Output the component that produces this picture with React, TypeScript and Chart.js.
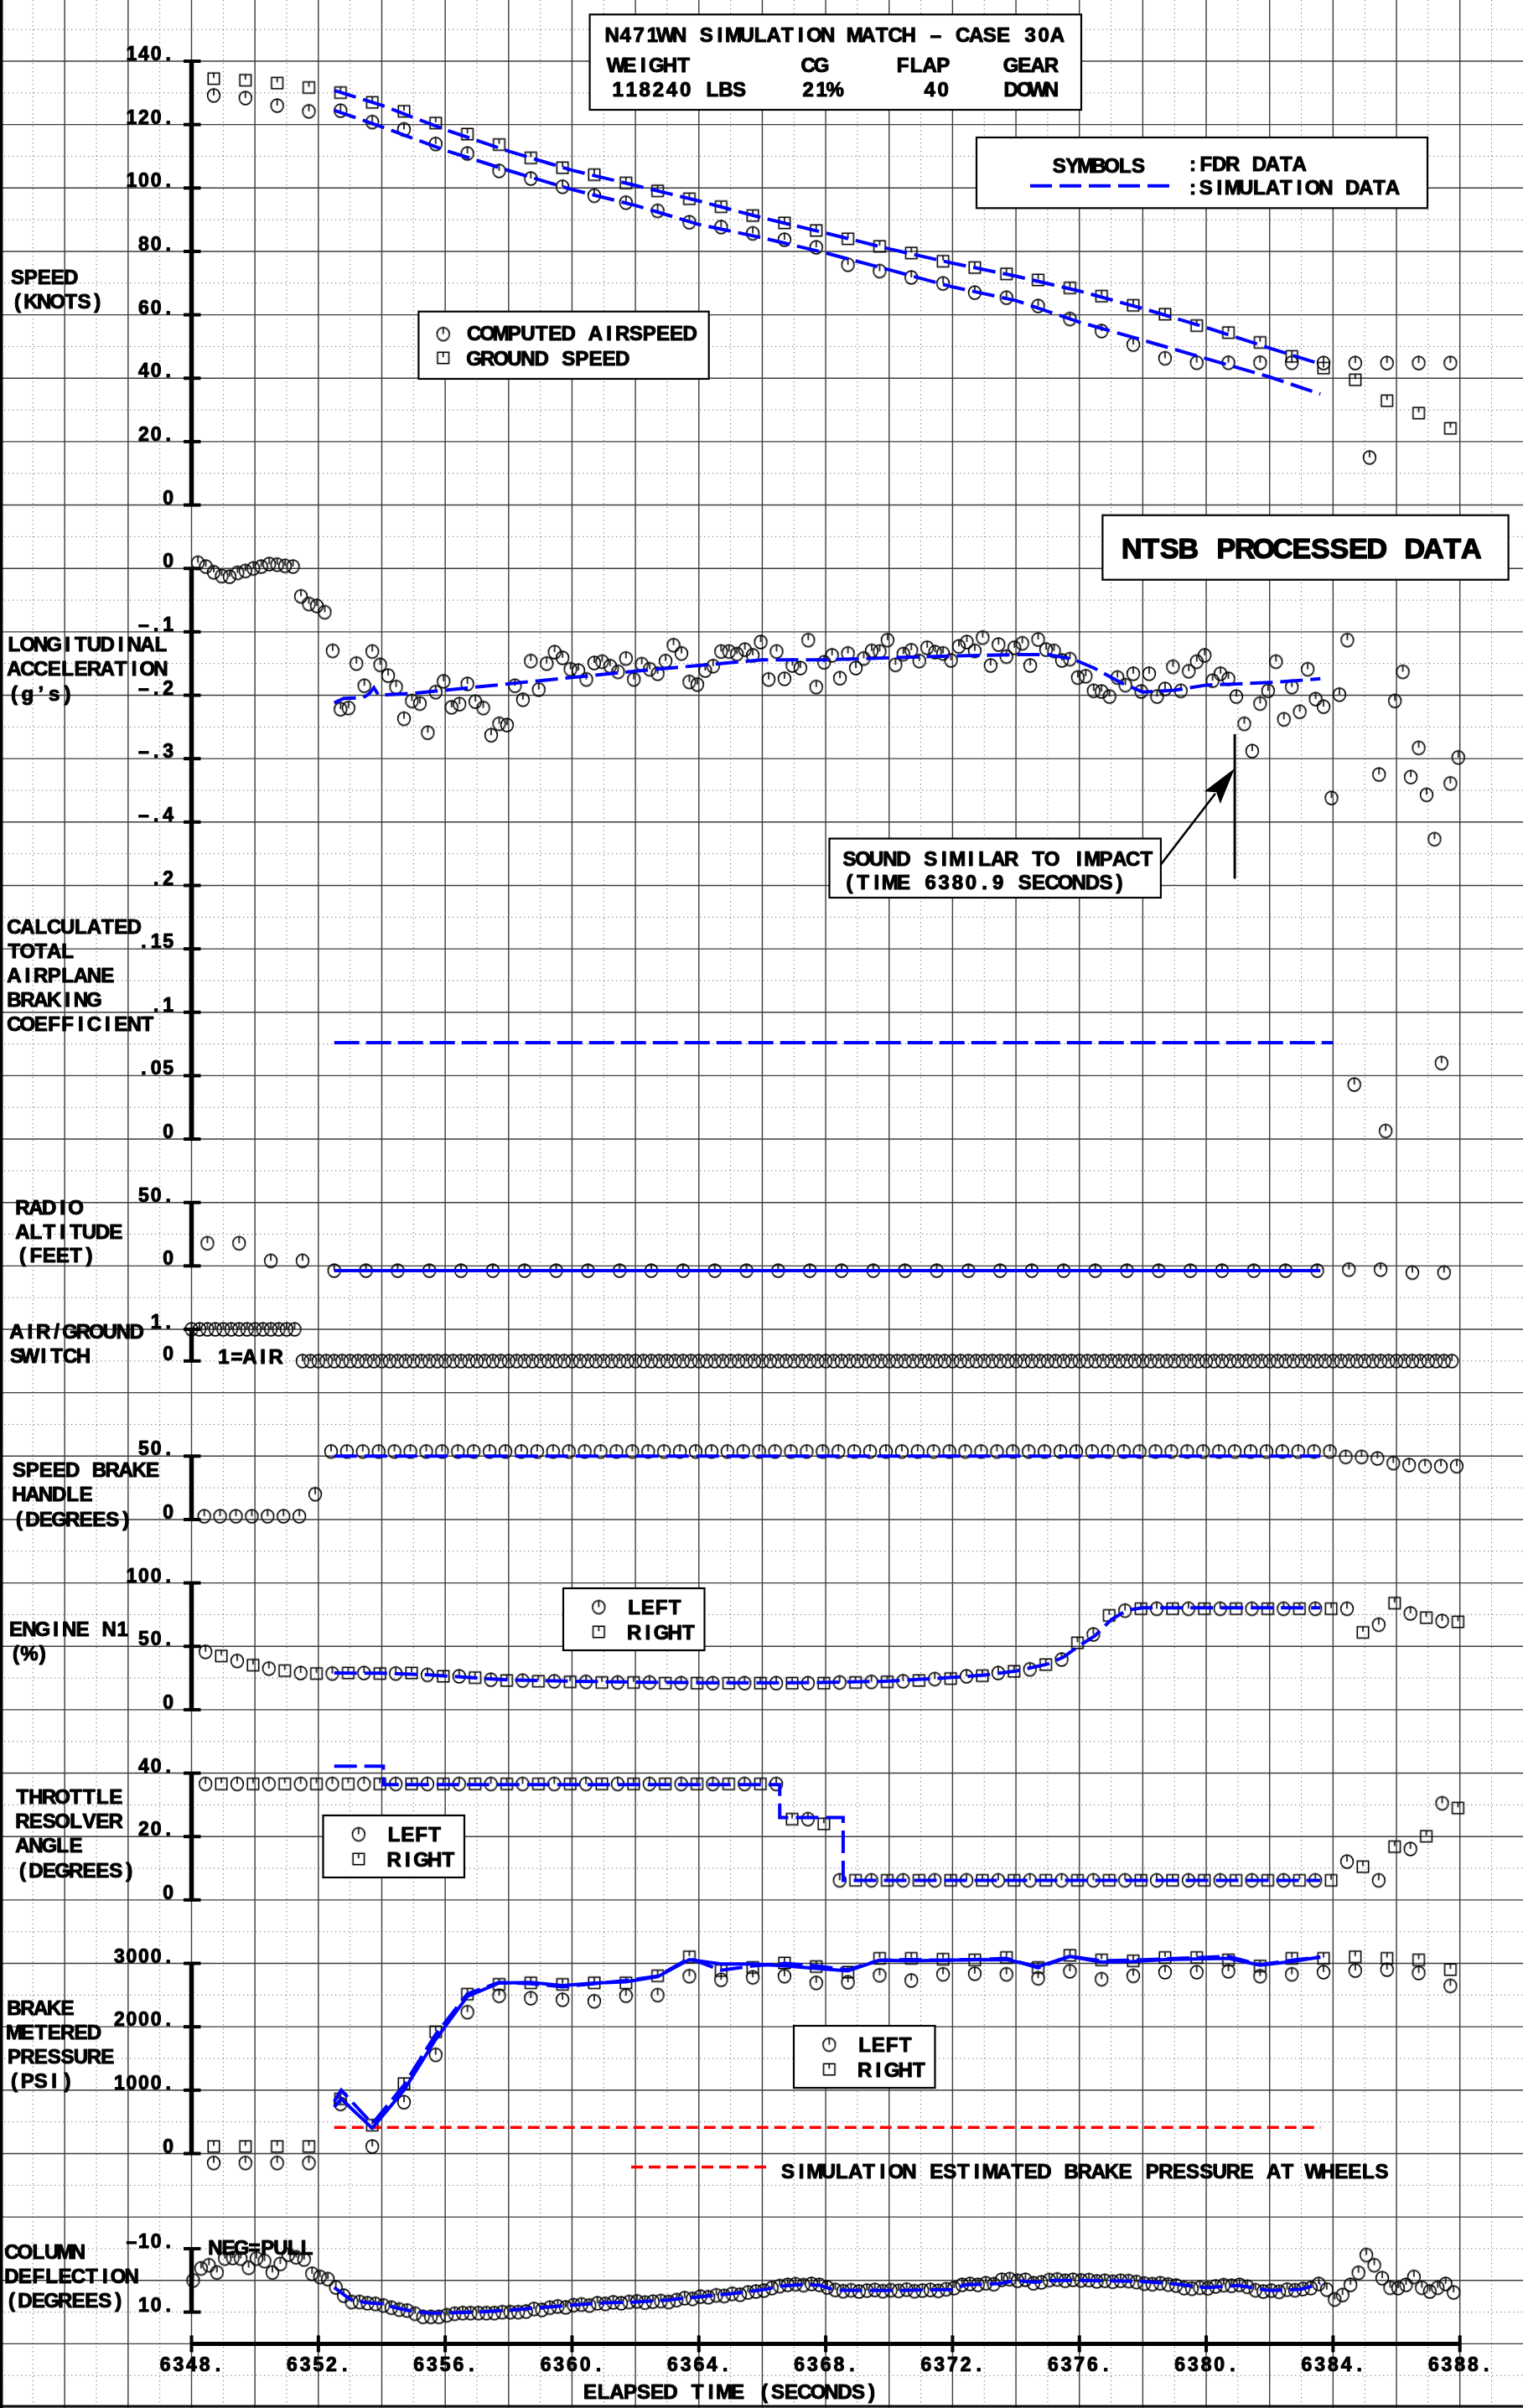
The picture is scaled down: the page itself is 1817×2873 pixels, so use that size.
import React, { useEffect, useRef } from "react";
import { Chart, registerables } from "chart.js";

Chart.register(...registerables);

// ---------------- page / plot frame ----------------
const CANVAS_W = 1817;
const CANVAS_H = 2873;
const PLOT_LEFT = 228.5;
const PLOT_RIGHT = 1741.7;
const PLOT_TOP = 73;
const PLOT_BOTTOM = 2796.4;
const ROWS = 36;
const BLUE = "#0000ff";
const RED = "#ff0000";
const FONT = "'Liberation Sans', Arial, Helvetica, sans-serif";

// ---------------- x axis ----------------
const X_MIN = 6348;
const X_MAX = 6388;
const X_TICKS = [6348, 6352, 6356, 6360, 6364, 6368, 6372, 6376, 6380, 6384, 6388];
const X_TICK_LABELS = ["6348.", "6352.", "6356.", "6360.", "6364.", "6368.", "6372.", "6376.", "6380.", "6384.", "6388."];
const X_TITLE = "ELAPSED TIME (SECONDS)";

// ---------------- tick labels per panel ----------------
const SPEED_TICKS = [140, 120, 100, 80, 60, 40, 20, 0];
const SPEED_TICK_LABELS = ["140.", "120.", "100.", "80.", "60.", "40.", "20.", "0"];
const ACC_TICKS = [0, -0.1, -0.2, -0.3, -0.4];
const ACC_TICK_LABELS = ["0", "–.1", "–.2", "–.3", "–.4"];
const COEF_TICKS = [0.2, 0.15, 0.1, 0.05, 0];
const COEF_TICK_LABELS = [".2", ".15", ".1", ".05", "0"];
const RAD_TICKS = [50, 0];
const RAD_TICK_LABELS = ["50.", "0"];
const AG_TICKS = [1, 0];
const AG_TICK_LABELS = ["1.", "0"];
const SB_TICKS = [50, 0];
const SB_TICK_LABELS = ["50.", "0"];
const N1_TICKS = [100, 50, 0];
const N1_TICK_LABELS = ["100.", "50.", "0"];
const TRA_TICKS = [40, 20, 0];
const TRA_TICK_LABELS = ["40.", "20.", "0"];
const BRK_TICKS = [3000, 2000, 1000, 0];
const BRK_TICK_LABELS = ["3000.", "2000.", "1000.", "0"];
const COL_TICKS = [-10, 10];
const COL_TICK_LABELS = ["–10.", "10."];

// ---------------- texts ----------------
const TITLE_LINE = "N471WN SIMULATION MATCH – CASE 30A";
const TITLE_HEADS = ["WEIGHT", "CG", "FLAP", "GEAR"];
const TITLE_VALUES = ["118240 LBS", "21%", "40", "DOWN"];
const SYMBOLS_TEXT = ["SYMBOLS", ":FDR DATA", ":SIMULATION DATA"];
const SPEED_LEGEND = ["COMPUTED AIRSPEED", "GROUND SPEED"];
const LR_LEGEND = ["LEFT", "RIGHT"];
const NTSB_TEXT = "NTSB PROCESSED DATA";
const SOUND_TEXT = ["SOUND SIMILAR TO IMPACT", "(TIME 6380.9 SECONDS)"];
const IMPACT_T = 6380.9;
const RED_LEGEND = "SIMULATION ESTIMATED BRAKE PRESSURE AT WHEELS";
const AIR_NOTE = "1=AIR";
const PULL_NOTE = "NEG=PULL";

// ---------------- SPEED (knots) ----------------
const SPD_T = [6348.7, 6349.7, 6350.7, 6351.7, 6352.7, 6353.7, 6354.7, 6355.7, 6356.7, 6357.7,
  6358.7, 6359.7, 6360.7, 6361.7, 6362.7, 6363.7, 6364.7, 6365.7, 6366.7, 6367.7,
  6368.7, 6369.7, 6370.7, 6371.7, 6372.7, 6373.7, 6374.7, 6375.7, 6376.7, 6377.7,
  6378.7, 6379.7, 6380.7, 6381.7, 6382.7, 6383.7, 6384.7, 6385.7, 6386.7, 6387.7];
const GS = [134.5, 134.0, 133.1, 131.7, 130.1, 127.0, 124.2, 120.5, 117.0, 113.7,
  109.5, 106.4, 104.2, 101.6, 99.1, 96.6, 94.1, 91.3, 89.0, 86.6,
  84.0, 81.6, 79.5, 76.9, 74.9, 72.9, 71.0, 68.5, 65.9, 63.0,
  60.2, 56.6, 54.4, 51.3, 46.9, 43.2, 39.5, 32.9, 29.0, 24.2];
const CAS_T = [6348.7, 6349.7, 6350.7, 6351.7, 6352.7, 6353.7, 6354.7, 6355.7, 6356.7, 6357.7,
  6358.7, 6359.7, 6360.7, 6361.7, 6362.7, 6363.7, 6364.7, 6365.7, 6366.7, 6367.7,
  6368.7, 6369.7, 6370.7, 6371.7, 6372.7, 6373.7, 6374.7, 6375.7, 6376.7, 6377.7,
  6378.7, 6379.7, 6380.7, 6381.7, 6382.7, 6383.7, 6384.7, 6385.15, 6385.7, 6386.7, 6387.7];
const CAS = [129.2, 128.4, 126.0, 124.2, 124.4, 120.8, 118.5, 113.9, 110.9, 105.4,
  103.0, 100.4, 97.6, 95.4, 92.8, 89.2, 87.7, 85.7, 83.7, 81.3,
  75.8, 73.8, 71.8, 69.9, 67.0, 65.4, 62.8, 58.7, 54.9, 50.6,
  46.3, 44.9, 44.9, 44.9, 44.9, 44.8, 44.8, 15.0, 44.8, 44.8, 44.8];
const SIM_SPD_T = [6352.5, 6354, 6356, 6358, 6360, 6362, 6364, 6366, 6368, 6370, 6372, 6374, 6376, 6378, 6380, 6382, 6383.6];
const SIM_GS = [130.8, 126.1, 118.4, 111.6, 105.6, 100.8, 95.9, 90.6, 85.8, 80.8, 76.3, 72.2, 67.5, 62.0, 56.0, 49.5, 44.5];
const SIM_CAS = [124.5, 119.3, 111.9, 105.5, 99.5, 94.5, 88.5, 84.3, 79.5, 74.2, 68.8, 64.5, 57.7, 52.0, 46.2, 40.4, 35.0];

// ---------------- LONGITUDINAL ACCELERATION (g) ----------------
const ACC_T = [6348.2, 6348.45, 6348.7, 6348.95, 6349.2, 6349.45, 6349.7, 6349.95,
  6350.2, 6350.45, 6350.7, 6350.95, 6351.2, 6351.45, 6351.7, 6351.95,
  6352.2, 6352.45, 6352.7, 6352.95, 6353.2, 6353.45, 6353.7, 6353.95,
  6354.2, 6354.45, 6354.7, 6354.95, 6355.2, 6355.45, 6355.7, 6355.95,
  6356.2, 6356.45, 6356.7, 6356.95, 6357.2, 6357.45, 6357.7, 6357.95,
  6358.2, 6358.45, 6358.7, 6358.95, 6359.2, 6359.45, 6359.7, 6359.95,
  6360.2, 6360.45, 6360.7, 6360.95, 6361.2, 6361.45, 6361.7, 6361.95,
  6362.2, 6362.45, 6362.7, 6362.95, 6363.2, 6363.45, 6363.7, 6363.95,
  6364.2, 6364.45, 6364.7, 6364.95, 6365.2, 6365.45, 6365.7, 6365.95,
  6366.2, 6366.45, 6366.7, 6366.95, 6367.2, 6367.45, 6367.7, 6367.95,
  6368.2, 6368.45, 6368.7, 6368.95, 6369.2, 6369.45, 6369.7, 6369.95,
  6370.2, 6370.45, 6370.7, 6370.95, 6371.2, 6371.45, 6371.7, 6371.95,
  6372.2, 6372.45, 6372.7, 6372.95, 6373.2, 6373.45, 6373.7, 6373.95,
  6374.2, 6374.45, 6374.7, 6374.95, 6375.2, 6375.45, 6375.7, 6375.95,
  6376.2, 6376.45, 6376.7, 6376.95, 6377.2, 6377.45, 6377.7, 6377.95,
  6378.2, 6378.45, 6378.7, 6378.95, 6379.2, 6379.45, 6379.7, 6379.95,
  6380.2, 6380.45, 6380.7, 6380.95, 6381.2, 6381.45, 6381.7, 6381.95,
  6382.2, 6382.45, 6382.7, 6382.95, 6383.2, 6383.45, 6383.7, 6383.95,
  6384.2, 6384.45];
const ACC = [0.009, 0.003, -0.006, -0.012, -0.013, -0.007, -0.004, 0.000, 0.003, 0.007,
  0.006, 0.004, 0.003, -0.044, -0.056, -0.059, -0.069, -0.130, -0.222, -0.220,
  -0.150, -0.185, -0.131, -0.152, -0.169, -0.187, -0.237, -0.209, -0.213, -0.259,
  -0.195, -0.178, -0.219, -0.214, -0.182, -0.210, -0.220, -0.263, -0.245, -0.247,
  -0.185, -0.207, -0.146, -0.191, -0.150, -0.132, -0.141, -0.159, -0.161, -0.175,
  -0.149, -0.147, -0.154, -0.163, -0.142, -0.175, -0.151, -0.159, -0.166, -0.146,
  -0.121, -0.134, -0.179, -0.183, -0.161, -0.154, -0.131, -0.131, -0.135, -0.128,
  -0.137, -0.116, -0.175, -0.131, -0.174, -0.153, -0.157, -0.113, -0.187, -0.148,
  -0.137, -0.173, -0.134, -0.157, -0.142, -0.130, -0.131, -0.113, -0.152, -0.135,
  -0.129, -0.146, -0.125, -0.132, -0.134, -0.145, -0.123, -0.116, -0.130, -0.109,
  -0.153, -0.120, -0.139, -0.125, -0.118, -0.153, -0.112, -0.128, -0.130, -0.145,
  -0.143, -0.172, -0.170, -0.193, -0.194, -0.202, -0.172, -0.184, -0.166, -0.194,
  -0.166, -0.202, -0.190, -0.155, -0.193, -0.162, -0.147, -0.137, -0.177, -0.166,
  -0.174, -0.202, -0.245, -0.288, -0.213, -0.193, -0.147, -0.238, -0.187, -0.226,
  -0.159, -0.206, -0.218, -0.362, -0.199, -0.113];
const ACC_LATE_T = [6385.45, 6385.95, 6386.2, 6386.45, 6386.7, 6386.95, 6387.2, 6387.7, 6387.95];
const ACC_LATE = [-0.325, -0.209, -0.163, -0.329, -0.283, -0.357, -0.427, -0.339, -0.298];
const SIM_ACC_T = [6352.5, 6352.8, 6353.4, 6353.6, 6353.75, 6353.9, 6355, 6356, 6358, 6360, 6362, 6364, 6366,
  6368, 6370, 6372, 6374, 6375, 6375.8, 6376.5, 6377.3, 6378, 6379, 6380, 6382, 6383.6];
const SIM_ACC = [-0.212, -0.205, -0.204, -0.198, -0.188, -0.200, -0.197, -0.192, -0.182, -0.172, -0.162, -0.153, -0.144,
  -0.144, -0.141, -0.138, -0.136, -0.136, -0.143, -0.158, -0.180, -0.195, -0.192, -0.184, -0.180, -0.174];

// ---------------- BRAKING COEFFICIENT ----------------
const COEF_T = [6384.67, 6385.66, 6387.42];
const COEF = [0.043, 0.0064, 0.060];
const SIM_COEF_T = [6352.5, 6384.0];
const SIM_COEF = [0.076, 0.076];

// ---------------- RADIO ALTITUDE (ft) ----------------
const RAD_T = [6348.5, 6349.5, 6350.5, 6351.5, 6352.5, 6353.5, 6354.5, 6355.5, 6356.5, 6357.5,
  6358.5, 6359.5, 6360.5, 6361.5, 6362.5, 6363.5, 6364.5, 6365.5, 6366.5, 6367.5,
  6368.5, 6369.5, 6370.5, 6371.5, 6372.5, 6373.5, 6374.5, 6375.5, 6376.5, 6377.5,
  6378.5, 6379.5, 6380.5, 6381.5, 6382.5, 6383.5, 6384.5, 6385.5, 6386.5, 6387.5];
const RAD = [17.9, 17.9, 4.0, 4.0, -3.7, -3.7, -3.7, -3.7, -3.7, -3.7,
  -3.7, -3.7, -3.7, -3.7, -3.7, -3.7, -3.7, -3.7, -3.7, -3.7,
  -3.7, -3.7, -3.7, -3.7, -3.7, -3.7, -3.7, -3.7, -3.7, -3.7,
  -3.7, -3.7, -3.7, -3.7, -3.7, -3.7, -2.9, -2.9, -5.3, -5.3];
const SIM_RAD_T = [6352.5, 6383.6];
const SIM_RAD = [-3.7, -3.7];

// ---------------- AIR/GROUND SWITCH ----------------
const AG_T = [6348, 6348.25, 6348.5, 6348.75, 6349, 6349.25, 6349.5, 6349.75,
  6350, 6350.25, 6350.5, 6350.75, 6351, 6351.25, 6351.5, 6351.75,
  6352, 6352.25, 6352.5, 6352.75, 6353, 6353.25, 6353.5, 6353.75,
  6354, 6354.25, 6354.5, 6354.75, 6355, 6355.25, 6355.5, 6355.75,
  6356, 6356.25, 6356.5, 6356.75, 6357, 6357.25, 6357.5, 6357.75,
  6358, 6358.25, 6358.5, 6358.75, 6359, 6359.25, 6359.5, 6359.75,
  6360, 6360.25, 6360.5, 6360.75, 6361, 6361.25, 6361.5, 6361.75,
  6362, 6362.25, 6362.5, 6362.75, 6363, 6363.25, 6363.5, 6363.75,
  6364, 6364.25, 6364.5, 6364.75, 6365, 6365.25, 6365.5, 6365.75,
  6366, 6366.25, 6366.5, 6366.75, 6367, 6367.25, 6367.5, 6367.75,
  6368, 6368.25, 6368.5, 6368.75, 6369, 6369.25, 6369.5, 6369.75,
  6370, 6370.25, 6370.5, 6370.75, 6371, 6371.25, 6371.5, 6371.75,
  6372, 6372.25, 6372.5, 6372.75, 6373, 6373.25, 6373.5, 6373.75,
  6374, 6374.25, 6374.5, 6374.75, 6375, 6375.25, 6375.5, 6375.75,
  6376, 6376.25, 6376.5, 6376.75, 6377, 6377.25, 6377.5, 6377.75,
  6378, 6378.25, 6378.5, 6378.75, 6379, 6379.25, 6379.5, 6379.75,
  6380, 6380.25, 6380.5, 6380.75, 6381, 6381.25, 6381.5, 6381.75,
  6382, 6382.25, 6382.5, 6382.75, 6383, 6383.25, 6383.5, 6383.75,
  6384, 6384.25, 6384.5, 6384.75, 6385, 6385.25, 6385.5, 6385.75,
  6386, 6386.25, 6386.5, 6386.75, 6387, 6387.25, 6387.5, 6387.75];
const AG = [1, 1, 1, 1, 1, 1, 1, 1,
  1, 1, 1, 1, 1, 1, 0, 0,
  0, 0, 0, 0, 0, 0, 0, 0,
  0, 0, 0, 0, 0, 0, 0, 0,
  0, 0, 0, 0, 0, 0, 0, 0,
  0, 0, 0, 0, 0, 0, 0, 0,
  0, 0, 0, 0, 0, 0, 0, 0,
  0, 0, 0, 0, 0, 0, 0, 0,
  0, 0, 0, 0, 0, 0, 0, 0,
  0, 0, 0, 0, 0, 0, 0, 0,
  0, 0, 0, 0, 0, 0, 0, 0,
  0, 0, 0, 0, 0, 0, 0, 0,
  0, 0, 0, 0, 0, 0, 0, 0,
  0, 0, 0, 0, 0, 0, 0, 0,
  0, 0, 0, 0, 0, 0, 0, 0,
  0, 0, 0, 0, 0, 0, 0, 0,
  0, 0, 0, 0, 0, 0, 0, 0,
  0, 0, 0, 0, 0, 0, 0, 0,
  0, 0, 0, 0, 0, 0, 0, 0,
  0, 0, 0, 0, 0, 0, 0, 0];

// ---------------- SPEED BRAKE HANDLE (deg) ----------------
const SB_T = [6348.4, 6348.9, 6349.4, 6349.9, 6350.4, 6350.9, 6351.4, 6351.9,
  6352.4, 6352.9, 6353.4, 6353.9, 6354.4, 6354.9, 6355.4, 6355.9,
  6356.4, 6356.9, 6357.4, 6357.9, 6358.4, 6358.9, 6359.4, 6359.9,
  6360.4, 6360.9, 6361.4, 6361.9, 6362.4, 6362.9, 6363.4, 6363.9,
  6364.4, 6364.9, 6365.4, 6365.9, 6366.4, 6366.9, 6367.4, 6367.9,
  6368.4, 6368.9, 6369.4, 6369.9, 6370.4, 6370.9, 6371.4, 6371.9,
  6372.4, 6372.9, 6373.4, 6373.9, 6374.4, 6374.9, 6375.4, 6375.9,
  6376.4, 6376.9, 6377.4, 6377.9, 6378.4, 6378.9, 6379.4, 6379.9,
  6380.4, 6380.9, 6381.4, 6381.9, 6382.4, 6382.9, 6383.4, 6383.9,
  6384.4, 6384.9, 6385.4, 6385.9, 6386.4, 6386.9, 6387.4, 6387.9];
const SB = [2.6, 2.6, 2.6, 2.6, 2.6, 2.6, 2.6, 20.0,
  53.7, 53.7, 53.7, 53.7, 53.7, 53.7, 53.7, 53.7,
  53.7, 53.7, 53.7, 53.7, 53.7, 53.7, 53.7, 53.7,
  53.7, 53.7, 53.7, 53.7, 53.7, 53.7, 53.7, 53.7,
  53.7, 53.7, 53.7, 53.7, 53.7, 53.7, 53.7, 53.7,
  53.7, 53.7, 53.7, 53.7, 53.7, 53.7, 53.7, 53.7,
  53.7, 53.7, 53.7, 53.7, 53.7, 53.7, 53.7, 53.7,
  53.7, 53.7, 53.7, 53.7, 53.7, 53.7, 53.7, 53.7,
  53.7, 53.7, 53.7, 53.7, 53.7, 53.7, 53.7, 53.7,
  49.4, 49.4, 48.2, 44.5, 43.0, 42.1, 42.1, 42.1];
const SIM_SB_T = [6352.5, 6383.6];
const SIM_SB = [50, 50];

// ---------------- ENGINE N1 (%) & THROTTLE (deg) — left/right sample times ----------------
const LEFT_T = [6348.44, 6349.44, 6350.44, 6351.44, 6352.44, 6353.44, 6354.44, 6355.44, 6356.44, 6357.44,
  6358.44, 6359.44, 6360.44, 6361.44, 6362.44, 6363.44, 6364.44, 6365.44, 6366.44, 6367.44,
  6368.44, 6369.44, 6370.44, 6371.44, 6372.44, 6373.44, 6374.44, 6375.44, 6376.44, 6377.44,
  6378.44, 6379.44, 6380.44, 6381.44, 6382.44, 6383.44, 6384.44, 6385.44, 6386.44, 6387.44];
const RIGHT_T = [6348.94, 6349.94, 6350.94, 6351.94, 6352.94, 6353.94, 6354.94, 6355.94, 6356.94, 6357.94,
  6358.94, 6359.94, 6360.94, 6361.94, 6362.94, 6363.94, 6364.94, 6365.94, 6366.94, 6367.94,
  6368.94, 6369.94, 6370.94, 6371.94, 6372.94, 6373.94, 6374.94, 6375.94, 6376.94, 6377.94,
  6378.94, 6379.94, 6380.94, 6381.94, 6382.94, 6383.94, 6384.94, 6385.94, 6386.94, 6387.94];
const N1_L = [45.7, 38.5, 32.5, 29.0, 28.6, 29.0, 28.6, 27.5, 26.4, 23.7,
  23.0, 22.5, 22.0, 21.5, 21.5, 21.0, 21.0, 21.0, 21.0, 21.0,
  21.5, 22.0, 22.5, 24.2, 26.4, 29.0, 31.9, 39.6, 59.4, 78.2,
  79.7, 79.7, 79.7, 79.7, 79.7, 79.7, 79.7, 67.1, 76.0, 70.0];
const N1_R = [42.4, 35.2, 30.8, 28.6, 29.0, 28.6, 29.0, 26.4, 25.3, 23.1,
  22.5, 22.0, 21.5, 21.5, 21.0, 21.0, 21.0, 21.0, 21.0, 21.0,
  21.5, 22.0, 23.1, 24.6, 26.8, 30.3, 35.6, 52.8, 74.4, 79.7,
  79.7, 79.7, 79.7, 79.7, 79.7, 79.7, 61.0, 84.1, 72.6, 69.3];
const SIM_N1_T = [6352.5, 6354, 6355.5, 6357, 6358, 6360, 6362, 6364, 6366, 6368, 6370, 6371,
  6372, 6373, 6374, 6375, 6375.5, 6376, 6376.5, 6377, 6377.5, 6378, 6383.6];
const SIM_N1 = [29.0, 28.8, 27.5, 25.0, 23.5, 22.5, 21.8, 21.3, 21.2, 21.5, 22.5, 24.0,
  25.5, 27.3, 30.5, 36.0, 41.5, 50.5, 58.5, 71.0, 78.5, 80.4, 80.4];
const TRA_L = [36.6, 36.6, 36.6, 36.6, 36.6, 36.6, 36.6, 36.6, 36.6, 36.6,
  36.6, 36.6, 36.6, 36.6, 36.6, 36.6, 36.6, 36.6, 36.6, 25.5,
  6.2, 6.2, 6.2, 6.2, 6.2, 6.2, 6.2, 6.2, 6.2, 6.2,
  6.2, 6.2, 6.2, 6.2, 6.2, 6.2, 12.1, 6.2, 16.1, 30.5];
const TRA_R = [36.6, 36.6, 36.6, 36.6, 36.6, 36.6, 36.6, 36.6, 36.6, 36.6,
  36.6, 36.6, 36.6, 36.6, 36.6, 36.6, 36.6, 36.6, 25.5, 24.0,
  6.2, 6.2, 6.2, 6.2, 6.2, 6.2, 6.2, 6.2, 6.2, 6.2,
  6.2, 6.2, 6.2, 6.2, 6.2, 6.2, 10.5, 16.8, 20.1, 29.0];
const SIM_TRA_T = [6352.5, 6354.05, 6354.05, 6366.55, 6366.55, 6368.55, 6368.55, 6383.6];
const SIM_TRA = [42.2, 42.2, 36.4, 36.4, 26.0, 26.0, 6.2, 6.2];

// ---------------- BRAKE METERED PRESSURE (psi) ----------------
const BRK_T = [6348.7, 6349.7, 6350.7, 6351.7, 6352.7, 6353.7, 6354.7, 6355.7, 6356.7, 6357.7,
  6358.7, 6359.7, 6360.7, 6361.7, 6362.7, 6363.7, 6364.7, 6365.7, 6366.7, 6367.7,
  6368.7, 6369.7, 6370.7, 6371.7, 6372.7, 6373.7, 6374.7, 6375.7, 6376.7, 6377.7,
  6378.7, 6379.7, 6380.7, 6381.7, 6382.7, 6383.7, 6384.7, 6385.7, 6386.7, 6387.7];
const BRK_L = [-147, -147, -147, -147, 784, 112, 810, 1558, 2231, 2489,
  2451, 2427, 2403, 2490, 2500, 2799, 2741, 2780, 2799, 2693,
  2702, 2813, 2731, 2828, 2838, 2828, 2765, 2876, 2751, 2804,
  2862, 2862, 2876, 2799, 2828, 2862, 2886, 2901, 2848, 2645];
const BRK_R = [112, 112, 112, 112, 862, 448, 1104, 1921, 2515, 2670,
  2693, 2669, 2693, 2693, 2804, 3104, 2886, 2935, 3007, 2949,
  2862, 3080, 3080, 3066, 3055, 3093, 2935, 3128, 3055, 3040,
  3093, 3093, 3055, 2958, 3080, 3080, 3104, 3080, 3055, 2901];
const SIM_BRK_T = [6352.5, 6352.72, 6353.7, 6354.7, 6355.7, 6356.7, 6357.7, 6358.7, 6359.7, 6360.7, 6361.7,
  6362.7, 6363.7, 6364.7, 6365.7, 6366.7, 6367.7, 6368.7, 6369.7, 6370.7, 6371.7, 6372.7,
  6373.7, 6374.7, 6375.7, 6376.7, 6377.7, 6378.7, 6379.7, 6380.7, 6381.7, 6382.7, 6383.6];
const SIM_BRK_A = [732, 862, 400, 1000, 1800, 2480, 2690, 2700, 2650, 2690, 2710,
  2790, 3060, 2990, 2990, 2960, 2920, 2880, 3050, 3040, 3050, 3055,
  3060, 2950, 3110, 3020, 3030, 3060, 3070, 3080, 2970, 3030, 3100];
const SIM_BRK_B = [820, 1000, 470, 1080, 1880, 2520, 2700, 2680, 2630, 2680, 2730,
  2800, 3080, 2890, 2960, 3000, 2960, 2900, 3050, 3060, 3050, 3060,
  3080, 2930, 3110, 3040, 3050, 3070, 3090, 3110, 2980, 3050, 3100];
const SIM_WHEEL_T = [6352.5, 6383.6];
const SIM_WHEEL = [412, 412];

// ---------------- COLUMN DEFLECTION (deg, neg = pull) ----------------
const COL_T = [6348.05, 6348.3, 6348.55, 6348.8, 6349.05, 6349.3, 6349.55, 6349.8,
  6350.05, 6350.3, 6350.55, 6350.8, 6351.05, 6351.3, 6351.55, 6351.8,
  6352.05, 6352.3, 6352.55, 6352.8, 6353.05, 6353.3, 6353.55, 6353.8,
  6354.05, 6354.3, 6354.55, 6354.8, 6355.05, 6355.3, 6355.55, 6355.8,
  6356.05, 6356.3, 6356.55, 6356.8, 6357.05, 6357.3, 6357.55, 6357.8,
  6358.05, 6358.3, 6358.55, 6358.8, 6359.05, 6359.3, 6359.55, 6359.8,
  6360.05, 6360.3, 6360.55, 6360.8, 6361.05, 6361.3, 6361.55, 6361.8,
  6362.05, 6362.3, 6362.55, 6362.8, 6363.05, 6363.3, 6363.55, 6363.8,
  6364.05, 6364.3, 6364.55, 6364.8, 6365.05, 6365.3, 6365.55, 6365.8,
  6366.05, 6366.3, 6366.55, 6366.8, 6367.05, 6367.3, 6367.55, 6367.8,
  6368.05, 6368.3, 6368.55, 6368.8, 6369.05, 6369.3, 6369.55, 6369.8,
  6370.05, 6370.3, 6370.55, 6370.8, 6371.05, 6371.3, 6371.55, 6371.8,
  6372.05, 6372.3, 6372.55, 6372.8, 6373.05, 6373.3, 6373.55, 6373.8,
  6374.05, 6374.3, 6374.55, 6374.8, 6375.05, 6375.3, 6375.55, 6375.8,
  6376.05, 6376.3, 6376.55, 6376.8, 6377.05, 6377.3, 6377.55, 6377.8,
  6378.05, 6378.3, 6378.55, 6378.8, 6379.05, 6379.3, 6379.55, 6379.8,
  6380.05, 6380.3, 6380.55, 6380.8, 6381.05, 6381.3, 6381.55, 6381.8,
  6382.05, 6382.3, 6382.55, 6382.8, 6383.05, 6383.3, 6383.55, 6383.8,
  6384.05, 6384.3, 6384.55, 6384.8, 6385.05, 6385.3, 6385.55, 6385.8,
  6386.05, 6386.3, 6386.55, 6386.8, 6387.05, 6387.3, 6387.55, 6387.8];
const COL = [0.0, -3.8, -4.8, -2.5, -6.9, -7.1, -6.9, -4.0, -6.9, -6.1,
  -2.5, -5.2, -8.1, -7.3, -6.6, -2.1, -1.1, -0.4, 2.2, 4.8,
  6.8, 6.8, 7.2, 7.4, 7.9, 8.6, 9.2, 9.5, 10.5, 11.5,
  11.5, 11.5, 11.0, 10.5, 10.3, 10.3, 10.3, 10.3, 10.3, 10.0,
  10.0, 10.0, 9.8, 9.0, 9.3, 8.6, 8.2, 8.5, 7.8, 7.6,
  7.9, 7.2, 7.4, 6.9, 7.2, 6.8, 6.6, 7.0, 6.7, 6.5,
  6.8, 6.2, 5.6, 5.8, 5.1, 5.3, 4.7, 4.9, 4.2, 4.5,
  3.8, 3.5, 3.2, 2.4, 1.8, 1.4, 1.2, 1.5, 1.1, 1.4,
  2.2, 3.0, 3.4, 3.1, 3.5, 3.2, 3.0, 3.4, 3.1, 3.3,
  2.9, 3.4, 3.2, 3.0, 3.3, 2.8, 2.4, 1.4, 1.1, 1.4,
  0.9, 1.2, -0.2, -0.4, 0.1, -0.2, 0.9, 0.6, -0.1, -0.3,
  0.1, -0.2, 0.0, -0.1, 0.3, 0.1, 0.4, 0.1, 0.2, 0.5,
  1.0, 1.2, 0.9, 1.3, 1.6, 2.4, 2.6, 2.3, 2.5, 1.9,
  1.5, 1.7, 1.4, 2.0, 3.1, 3.5, 3.2, 3.6, 2.9, 3.1,
  2.7, 2.4, 1.1, 2.9, 6.0, 4.6, 1.4, -2.4, -8.0, -4.8,
  -0.7, 2.3, 2.4, 1.4, -1.1, 2.3, 3.5, 2.3, 1.1, 3.8];
const SIM_COL_T = [6352.5, 6353, 6353.5, 6354, 6354.5, 6355, 6355.5, 6356, 6356.5, 6357, 6358, 6359, 6360,
  6361, 6362, 6363, 6364, 6365, 6366, 6366.6, 6367.3, 6367.8, 6368.3, 6370, 6372, 6372.4, 6373.5,
  6374, 6374.6, 6375, 6376, 6378, 6379, 6380, 6381, 6382, 6383, 6383.6];
const SIM_COL = [2.2, 6.0, 7.0, 7.4, 8.8, 9.8, 10.3, 10.3, 10.1, 10.0, 9.4, 8.6, 7.8,
  7.1, 6.8, 6.2, 5.2, 4.2, 3.0, 1.8, 1.3, 1.5, 3.1, 3.2, 2.9, 1.4, 1.0,
  0.0, 0.6, 0.1, 0.0, 0.3, 1.1, 2.3, 1.6, 3.2, 2.8, 1.0];

// ---------------- panel layout (value at top tick row, value per grid row) ----------------
type Panel = {
  id: string; top: number; row: number; per: number; reverse?: boolean; joinNext?: boolean;
  ticks: number[]; labels: string[]; title: string[]; tx: number; ty: number[];
};
const PANELS: Panel[] = [
  { id: "ySpeed", top: 140, row: 0, per: 20, ticks: SPEED_TICKS, labels: SPEED_TICK_LABELS, title: ["SPEED", "(KNOTS)"], tx: 13, ty: [330.6, 359.8] },
  { id: "yAccel", top: 0, row: 8, per: 0.1, joinNext: true, ticks: ACC_TICKS, labels: ACC_TICK_LABELS, title: ["LONGITUDINAL", "ACCELERATION", "(g’s)"], tx: 9, ty: [768.7, 797.7, 827.5] },
  { id: "yCoef", top: 0.2, row: 13, per: 0.05, ticks: COEF_TICKS, labels: COEF_TICK_LABELS, title: ["CALCULATED", "TOTAL", "AIRPLANE", "BRAKING", "COEFFICIENT"], tx: 9, ty: [1105.3, 1134.7, 1163.8, 1192.8, 1221.3] },
  { id: "yRadio", top: 50, row: 18, per: 50, ticks: RAD_TICKS, labels: RAD_TICK_LABELS, title: ["RADIO", "ALTITUDE", "(FEET)"], tx: 19, ty: [1440, 1469.3, 1497.3] },
  { id: "yAG", top: 1, row: 20, per: 2, ticks: AG_TICKS, labels: AG_TICK_LABELS, title: ["AIR/GROUND", "SWITCH"], tx: 12, ty: [1588.3, 1617.3] },
  { id: "ySB", top: 50, row: 22, per: 50, ticks: SB_TICKS, labels: SB_TICK_LABELS, title: ["SPEED BRAKE", "HANDLE", "(DEGREES)"], tx: 15, ty: [1753.3, 1782.5, 1812] },
  { id: "yN1", top: 100, row: 24, per: 50, ticks: N1_TICKS, labels: N1_TICK_LABELS, title: ["ENGINE N1", "(%)"], tx: 11, ty: [1943.3, 1972.7] },
  { id: "yTRA", top: 40, row: 27, per: 20, ticks: TRA_TICKS, labels: TRA_TICK_LABELS, title: ["THROTTLE", "RESOLVER", "ANGLE", "(DEGREES)"], tx: 19, ty: [2143.3, 2172.7, 2201.7, 2231.7] },
  { id: "yBrake", top: 3000, row: 30, per: 1000, ticks: BRK_TICKS, labels: BRK_TICK_LABELS, title: ["BRAKE", "METERED", "PRESSURE", "(PSI)"], tx: 9, ty: [2395.7, 2424.2, 2453.5, 2482.8] },
  { id: "yCol", top: -10, row: 34.5, per: 20, reverse: true, ticks: COL_TICKS, labels: COL_TICK_LABELS, title: ["COLUMN", "DEFLECTION", "(DEGREES)"], tx: 6, ty: [2686.1, 2715.4, 2744.8] },
];

function panelRange(p: Panel) {
  if (p.reverse) {
    const min = p.top - p.row * p.per;
    return { min, max: min + ROWS * p.per };
  }
  const max = p.top + p.row * p.per;
  return { min: max - ROWS * p.per, max };
}

// ---------------- drawing helpers ----------------
function cellText(ctx: any, text: string, x: number, yc: number, cell: number, size: number, align = "left") {
  const chars = Array.from(text);
  const n = chars.length;
  const x0 = align === "left" ? x : align === "right" ? x - n * cell : x - (n * cell) / 2;
  ctx.save();
  ctx.setLineDash([]);
  ctx.font = `bold ${size}px ${FONT}`;
  ctx.textAlign = "center";
  ctx.textBaseline = "alphabetic";
  ctx.fillStyle = "#000";
  ctx.strokeStyle = "#000";
  ctx.lineWidth = size * 0.045;
  ctx.lineJoin = "round";
  const base = yc + size * 0.36;
  chars.forEach((ch, i) => {
    if (ch === " ") return;
    const cx = x0 + (i + 0.5) * cell;
    ctx.fillText(ch, cx, base);
    ctx.strokeText(ch, cx, base);
  });
  ctx.restore();
}

function box(ctx: any, x0: number, y0: number, x1: number, y1: number) {
  ctx.setLineDash([]);
  ctx.fillStyle = "#fff";
  ctx.fillRect(x0, y0, x1 - x0, y1 - y0);
  ctx.strokeStyle = "#000";
  ctx.lineWidth = 2.2;
  ctx.strokeRect(x0, y0, x1 - x0, y1 - y0);
}

function seg(ctx: any, x0: number, y0: number, x1: number, y1: number) {
  ctx.beginPath();
  ctx.moveTo(x0, y0);
  ctx.lineTo(x1, y1);
  ctx.stroke();
}

function makeCircle() {
  const c = document.createElement("canvas");
  c.width = 20; c.height = 20;
  const g = c.getContext("2d")!;
  g.strokeStyle = "#000"; g.lineWidth = 1.6;
  g.beginPath(); g.ellipse(10, 10, 7.4, 7.9, 0, 0, Math.PI * 2); g.stroke();
  g.beginPath(); g.moveTo(10, 2.2); g.lineTo(10, 10); g.stroke();
  return c;
}
function makeSquare() {
  const c = document.createElement("canvas");
  c.width = 18; c.height = 18;
  const g = c.getContext("2d")!;
  g.strokeStyle = "#000"; g.lineWidth = 1.6;
  g.strokeRect(2.3, 2.3, 13.4, 13.4);
  g.beginPath(); g.moveTo(9, 2.3); g.lineTo(9, 8.2); g.stroke();
  return c;
}

const pts = (xs: number[], ys: number[]) => xs.map((x, i) => ({ x, y: ys[i] }));

export default function App() {
  const ref = useRef<HTMLCanvasElement | null>(null);

  useEffect(() => {
    document.body.style.margin = "0";
    const canvas = ref.current!;
    const circle = makeCircle();
    const square = makeSquare();

    const fdr = (label: string, xs: number[], ys: number[], yAxisID: string, style: any) => ({
      label, data: pts(xs, ys), yAxisID, showLine: false, pointStyle: style,
      pointRadius: 8, pointHoverRadius: 8, order: 2, clip: false,
    });
    const sim = (label: string, xs: number[], ys: number[], yAxisID: string, color = BLUE, dash: number[] = [27, 9], width = 4) => ({
      label, data: pts(xs, ys), yAxisID, showLine: true, borderColor: color, borderWidth: width,
      borderDash: dash, pointRadius: 0, fill: false, tension: 0, order: 1, clip: false,
    });

    const datasets: any[] = [
      sim("GS sim", SIM_SPD_T, SIM_GS, "ySpeed"),
      sim("CAS sim", SIM_SPD_T, SIM_CAS, "ySpeed"),
      sim("Accel sim", SIM_ACC_T, SIM_ACC, "yAccel"),
      sim("Coef sim", SIM_COEF_T, SIM_COEF, "yCoef", BLUE, [30, 8]),
      sim("Radio sim", SIM_RAD_T, SIM_RAD, "yRadio", BLUE, []),
      sim("SB sim", SIM_SB_T, SIM_SB, "ySB"),
      sim("N1 sim", SIM_N1_T, SIM_N1, "yN1"),
      sim("TRA sim", SIM_TRA_T, SIM_TRA, "yTRA"),
      sim("Brake sim A", SIM_BRK_T, SIM_BRK_A, "yBrake", BLUE, []),
      sim("Brake sim B", SIM_BRK_T, SIM_BRK_B, "yBrake"),
      sim("Wheel pressure sim", SIM_WHEEL_T, SIM_WHEEL, "yBrake", RED, [14, 7], 3.5),
      sim("Column sim", SIM_COL_T, SIM_COL, "yCol"),
      fdr("Computed airspeed", CAS_T, CAS, "ySpeed", circle),
      fdr("Ground speed", SPD_T, GS, "ySpeed", square),
      fdr("Long. accel", ACC_T, ACC, "yAccel", circle),
      fdr("Long. accel late", ACC_LATE_T, ACC_LATE, "yAccel", circle),
      fdr("Braking coef", COEF_T, COEF, "yCoef", circle),
      fdr("Radio altitude", RAD_T, RAD, "yRadio", circle),
      fdr("Air/ground", AG_T, AG, "yAG", circle),
      fdr("Speed brake", SB_T, SB, "ySB", circle),
      fdr("N1 left", LEFT_T, N1_L, "yN1", circle),
      fdr("N1 right", RIGHT_T, N1_R, "yN1", square),
      fdr("TRA left", LEFT_T, TRA_L, "yTRA", circle),
      fdr("TRA right", RIGHT_T, TRA_R, "yTRA", square),
      fdr("Brake left", BRK_T, BRK_L, "yBrake", circle),
      fdr("Brake right", BRK_T, BRK_R, "yBrake", square),
      fdr("Column", COL_T, COL, "yCol", circle),
    ];

    const scales: any = {
      x: { type: "linear", min: X_MIN, max: X_MAX, display: false },
      y: { type: "linear", display: false },
    };
    PANELS.forEach((p) => {
      const r = panelRange(p);
      scales[p.id] = { type: "linear", display: false, min: r.min, max: r.max, reverse: !!p.reverse };
    });

    const paperPlugin = {
      id: "paper",
      beforeDraw(chart: any) {
        const { ctx, chartArea: a } = chart;
        const xs = chart.scales.x;
        const colW = xs.getPixelForValue(X_MIN + 2) - xs.getPixelForValue(X_MIN);
        const rowH = (a.bottom - a.top) / ROWS;
        const W = chart.width, H = chart.height;
        ctx.save();
        ctx.fillStyle = "#fff";
        ctx.fillRect(0, 0, W, H);
        ctx.strokeStyle = "#777";
        ctx.lineWidth = 1;
        ctx.setLineDash([1.3, 3.7]);
        ctx.beginPath();
        for (let k = -4; k <= 22; k++) {
          const x = a.left + (k + 0.5) * colW;
          if (x < 0 || x > W) continue;
          ctx.moveTo(x, 0); ctx.lineTo(x, H);
        }
        for (let k = -2; k <= 38; k++) {
          const y = a.top + (k + 0.5) * rowH;
          if (y < 0 || y > H) continue;
          ctx.moveTo(0, y); ctx.lineTo(W, y);
        }
        ctx.stroke();
        ctx.setLineDash([]);
        ctx.strokeStyle = "#3c3c3c";
        ctx.lineWidth = 1.4;
        ctx.beginPath();
        for (let k = -4; k <= 22; k++) {
          const x = a.left + k * colW;
          if (x < 0 || x > W) continue;
          ctx.moveTo(x, 0); ctx.lineTo(x, H);
        }
        for (let k = -2; k <= 38; k++) {
          const y = a.top + k * rowH;
          if (y < 0 || y > H) continue;
          ctx.moveTo(0, y); ctx.lineTo(W, y);
        }
        ctx.stroke();
        ctx.restore();
      },
    };

    const axesPlugin = {
      id: "axes",
      beforeDatasetsDraw(chart: any) {
        const { ctx, chartArea: a } = chart;
        const xs = chart.scales.x;
        const x0 = xs.getPixelForValue(X_MIN);
        ctx.save();
        ctx.strokeStyle = "#000";
        ctx.setLineDash([]);
        PANELS.forEach((p, idx) => {
          const s = chart.scales[p.id];
          const ys = p.ticks.map((v) => s.getPixelForValue(v));
          const yTop = Math.min(...ys);
          let yBot = Math.max(...ys);
          if (p.joinNext) {
            const n = PANELS[idx + 1];
            const s2 = chart.scales[n.id];
            yBot = Math.max(...n.ticks.map((v) => s2.getPixelForValue(v)));
          }
          ctx.strokeStyle = "#000";
          ctx.lineWidth = 5.5;
          seg(ctx, x0, yTop, x0, yBot);
          ys.forEach((y, i) => {
            ctx.strokeStyle = "#000";
            ctx.lineWidth = 4;
            seg(ctx, x0 - 9.5, y, x0 + 11, y);
            cellText(ctx, p.labels[i], 208, y - 9.2, 14.6, 23, "right");
          });
          p.title.forEach((t, i) => cellText(ctx, t, p.tx, p.ty[i], 15.9, 24));
        });
        // x axis
        const yAx = a.bottom;
        ctx.strokeStyle = "#000";
        ctx.lineWidth = 5;
        seg(ctx, x0, yAx, xs.getPixelForValue(X_MAX), yAx);
        X_TICKS.forEach((t, i) => {
          const x = xs.getPixelForValue(t);
          ctx.strokeStyle = "#000";
          ctx.lineWidth = 4;
          seg(ctx, x, yAx - 10, x, yAx + 10);
          cellText(ctx, X_TICK_LABELS[i], x, yAx + 24.5, 15.7, 23, "center");
        });
        cellText(ctx, X_TITLE, 696, yAx + 56.5, 16, 24);
        ctx.restore();
      },
    };

    const overlayPlugin = {
      id: "overlay",
      afterDraw(chart: any) {
        const { ctx } = chart;
        const xs = chart.scales.x;
        ctx.save();
        // title box
        box(ctx, 703.6, 17.3, 1290, 131);
        cellText(ctx, TITLE_LINE, 722, 41.7, 16.1, 24);
        const headX = [727, 956, 1069, 1198];
        const valX = [729, 956, 1101, 1198];
        TITLE_HEADS.forEach((t, i) => cellText(ctx, t, headX[i], 77.3, 16.1, 24));
        TITLE_VALUES.forEach((t, i) => cellText(ctx, t, valX[i], 106.7, 16.1, 24));
        // symbols box
        box(ctx, 1165, 164, 1703, 248.3);
        cellText(ctx, SYMBOLS_TEXT[0], 1256, 197.3, 15.7, 24);
        cellText(ctx, SYMBOLS_TEXT[1], 1415, 195.5, 15.9, 24);
        cellText(ctx, SYMBOLS_TEXT[2], 1415, 223.3, 15.9, 24);
        ctx.strokeStyle = BLUE; ctx.lineWidth = 4; ctx.setLineDash([26, 9]);
        seg(ctx, 1229, 221.7, 1397, 221.7);
        ctx.setLineDash([]);
        // speed legend box
        box(ctx, 499.4, 371.7, 845.7, 452);
        ctx.drawImage(circle, 528.7 - 10, 398.6 - 10);
        ctx.drawImage(square, 528.7 - 9, 427 - 9);
        cellText(ctx, SPEED_LEGEND[0], 557.5, 397.4, 16.1, 24);
        cellText(ctx, SPEED_LEGEND[1], 557.5, 427, 16.1, 24);
        // NTSB box
        box(ctx, 1315.4, 614.7, 1799.6, 691.7);
        cellText(ctx, NTSB_TEXT, 1339, 653.5, 22.5, 34);
        // sound annotation
        box(ctx, 989.5, 1000.5, 1384.9, 1071);
        cellText(ctx, SOUND_TEXT[0], 1005.5, 1024, 16.1, 24);
        cellText(ctx, SOUND_TEXT[1], 1005.5, 1052.3, 16.1, 24);
        const xi = xs.getPixelForValue(IMPACT_T);
        ctx.strokeStyle = "#000"; ctx.lineWidth = 3;
        seg(ctx, xi, 875.9, xi, 1048.4);
        const sx = 1384.9, sy = 1031.5, tx = xi, ty = 916.7;
        const dx = tx - sx, dy = ty - sy, L = Math.hypot(dx, dy);
        const ux = dx / L, uy = dy / L;
        const bx = tx - 44 * ux, by = ty - 44 * uy;
        ctx.lineWidth = 2.6;
        seg(ctx, sx, sy, bx + 6 * ux, by + 6 * uy);
        ctx.fillStyle = "#000";
        ctx.beginPath();
        ctx.moveTo(tx, ty);
        ctx.lineTo(bx - 12 * uy, by + 12 * ux);
        ctx.lineTo(bx + 8 * ux, by + 8 * uy);
        ctx.lineTo(bx + 12 * uy, by - 12 * ux);
        ctx.closePath();
        ctx.fill();
        // left/right legends
        const lrBoxes = [[672, 1895], [385.5, 2166], [947, 2417]];
        lrBoxes.forEach(([bx0, by0]) => {
          box(ctx, bx0, by0, bx0 + 168.5, by0 + 74);
          ctx.drawImage(circle, bx0 + 42.3 - 10, by0 + 22.5 - 10);
          ctx.drawImage(square, bx0 + 42.3 - 9, by0 + 52 - 9);
          cellText(ctx, LR_LEGEND[0], bx0 + 76.5, by0 + 22.5, 16.2, 24);
          cellText(ctx, LR_LEGEND[1], bx0 + 76.5, by0 + 52, 16.2, 24);
        });
        // red legend
        ctx.strokeStyle = RED; ctx.lineWidth = 3.5; ctx.setLineDash([14, 7]);
        seg(ctx, 753, 2585.5, 918, 2585.5);
        ctx.setLineDash([]);
        cellText(ctx, RED_LEGEND, 932, 2590.6, 16.1, 24);
        // notes
        cellText(ctx, AIR_NOTE, 259, 1618.3, 15.6, 24);
        cellText(ctx, PULL_NOTE, 249, 2681, 15.6, 24);
        // page border
        ctx.strokeStyle = "#000";
        ctx.lineWidth = 3.5;
        seg(ctx, 1.7, 0, 1.7, chart.height);
        ctx.lineWidth = 2.2;
        seg(ctx, 0, 2870.6, chart.width, 2870.6);
        ctx.restore();
      },
    };

    const chart = new Chart(canvas, {
      type: "line",
      data: { datasets },
      options: {
        responsive: false,
        animation: false,
        devicePixelRatio: 1,
        events: [],
        layout: { padding: { left: PLOT_LEFT, right: CANVAS_W - PLOT_RIGHT, top: PLOT_TOP, bottom: CANVAS_H - PLOT_BOTTOM } },
        plugins: { legend: { display: false }, tooltip: { enabled: false } },
        scales,
      },
      plugins: [paperPlugin, axesPlugin, overlayPlugin],
    } as any);

    return () => chart.destroy();
  }, []);

  return <canvas ref={ref} width={CANVAS_W} height={CANVAS_H} style={{ display: "block" }} />;
}
